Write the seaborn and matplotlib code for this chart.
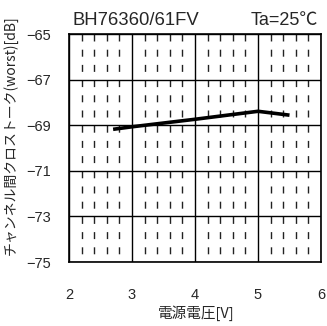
import matplotlib
matplotlib.use("Agg")
import matplotlib.pyplot as plt
from matplotlib.ticker import MultipleLocator
import seaborn as sns
import pandas as pd

# data
voltage = [2.7, 3.0, 4.0, 5.0, 5.5]
crosstalk = [-69.18, -69.07, -68.74, -68.39, -68.56]
x_ticks = [2, 3, 4, 5, 6]
y_ticks = [-65, -67, -69, -71, -73, -75]

sns.set_style("white")
plt.rcParams['font.family'] = ['Liberation Sans', 'Noto Sans CJK JP']
plt.rcParams['axes.unicode_minus'] = True

df = pd.DataFrame({"v": voltage, "xt": crosstalk})

fig = plt.figure(figsize=(3.27, 3.26), dpi=100)
left, right, bottom, top = 69 / 327, 321 / 327, 1 - 262 / 326, 1 - 34 / 326
ax = fig.add_axes([left, bottom, right - left, top - bottom])

sns.lineplot(data=df, x="v", y="xt", color="black", linewidth=2.6, ax=ax,
             solid_capstyle="butt", zorder=5)

ax.set_xlim(2, 6)
ax.set_ylim(-75, -65)
ax.set_xticks(x_ticks)
ax.set_yticks(y_ticks)
ax.set_yticklabels([f"\u2212{abs(v)}" for v in y_ticks])
ax.xaxis.set_minor_locator(MultipleLocator(0.2))

# dashed minor lines: 3 dashes per major y interval, starting at top line
ax_h_pt = (top - bottom) * 3.26 * 72
period = ax_h_pt / 15
dash = period * 0.46
ax.grid(which="major", color="black", linewidth=1.0, linestyle="-")
ax.grid(which="minor", axis="x", color="#222222", linewidth=1.0,
        linestyle=(dash, (dash, period - dash)))
ax.tick_params(which="both", length=0)
ax.tick_params(axis="y", pad=13, labelsize=10.5)
ax.tick_params(axis="x", pad=19, labelsize=10.5)
for s in ax.spines.values():
    s.set_color("black")
    s.set_linewidth(1.2)

ax.set_xlabel("")
ax.set_ylabel("")
jp = ['Noto Sans CJK JP', 'DejaVu Sans']
fig.text(196 / 327, 1 - 313 / 326, "電源電圧[V]", fontsize=10.5, ha="center", va="center",
         family=jp)
fig.text(10 / 327, 1 - 135 / 326, "チャンネル間クロストーク(worst)[dB]", fontsize=10,
         rotation=90, ha="center", va="center", family=jp)

fig.text(73 / 327, 1 - 25 / 326, "BH76360/61FV", fontsize=13.3, ha="left", va="baseline")
fig.text(318 / 327, 1 - 25 / 326, "Ta=25℃", fontsize=13, ha="right", va="baseline",
         family=['Liberation Sans', 'Noto Sans CJK JP'])

fig.savefig("out.png", dpi=100)
